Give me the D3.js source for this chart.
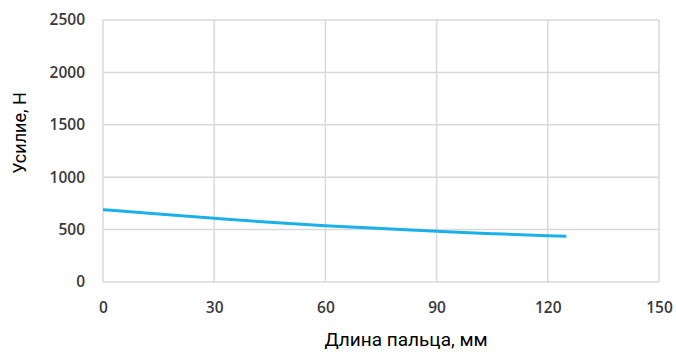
<!DOCTYPE html>
<html>
<head>
<meta charset="utf-8">
<script src="https://cdn.jsdelivr.net/npm/d3@7"></script>
<style>
  body { margin: 0; background: #fff; }
  #chart { width: 676px; height: 352px; }
  .tick text { font-family: "Open Sans", sans-serif; font-size: 15.5px; font-weight: 600; fill: #3a3a3a; }
  .title { font-family: Roboto, sans-serif; fill: #000; }
</style>
</head>
<body>
<div id="chart"></div>
<script>
const lengths = [0, 15, 30, 45, 60, 75, 90, 105, 120, 125];
const forces = [690, 648, 608, 570, 537, 510, 485, 461, 441, 436];
const xTicks = [0, 30, 60, 90, 120, 150];
const yTicks = [0, 500, 1000, 1500, 2000, 2500];

const margin = { top: 20, right: 17, bottom: 70, left: 103 };
const width = 676 - margin.left - margin.right;
const height = 352 - margin.top - margin.bottom;

const svg = d3.select("#chart").append("svg")
    .attr("width", 676)
    .attr("height", 352)
  .append("g")
    .attr("transform", `translate(${margin.left},${margin.top})`);

const x = d3.scaleLinear().domain([0, 150]).range([0, width]);
const y = d3.scaleLinear().domain([0, 2500]).range([height, 0]);

// grid
svg.append("g")
    .selectAll("line")
    .data(xTicks)
    .enter().append("line")
    .attr("x1", d => x(d)).attr("x2", d => x(d))
    .attr("y1", 0).attr("y2", height)
    .attr("stroke", "#d9d9d9").attr("stroke-width", 1.5);

svg.append("g")
    .selectAll("line")
    .data(yTicks)
    .enter().append("line")
    .attr("x1", 0).attr("x2", width)
    .attr("y1", d => y(d)).attr("y2", d => y(d))
    .attr("stroke", "#d9d9d9").attr("stroke-width", 1.5);

// axes (labels only)
svg.append("g")
    .attr("transform", `translate(0,${height})`)
    .call(d3.axisBottom(x).tickValues(xTicks).tickFormat(d3.format("d")).tickSize(0).tickPadding(20))
    .call(g => g.select(".domain").remove());

svg.append("g")
    .call(d3.axisLeft(y).tickValues(yTicks).tickFormat(d3.format("d")).tickSize(0).tickPadding(18))
    .call(g => g.select(".domain").remove());

// curve
const line = d3.line()
    .x((d, i) => x(lengths[i]))
    .y(d => y(d))
    .curve(d3.curveMonotoneX);

svg.append("path")
    .datum(forces)
    .attr("fill", "none")
    .attr("stroke", "#1cb0ea")
    .attr("stroke-width", 3)
    .attr("d", line);

// titles
svg.append("text")
    .attr("class", "title")
    .attr("x", 303)
    .attr("y", height + 64)
    .attr("text-anchor", "middle")
    .style("font-size", "19px")
    .text("Длина пальца, мм");

svg.append("text")
    .attr("class", "title")
    .attr("transform", `translate(${-77},${113}) rotate(-90)`)
    .attr("text-anchor", "middle")
    .style("font-size", "18px")
    .text("Усилие, Н");
</script>
</body>
</html>
